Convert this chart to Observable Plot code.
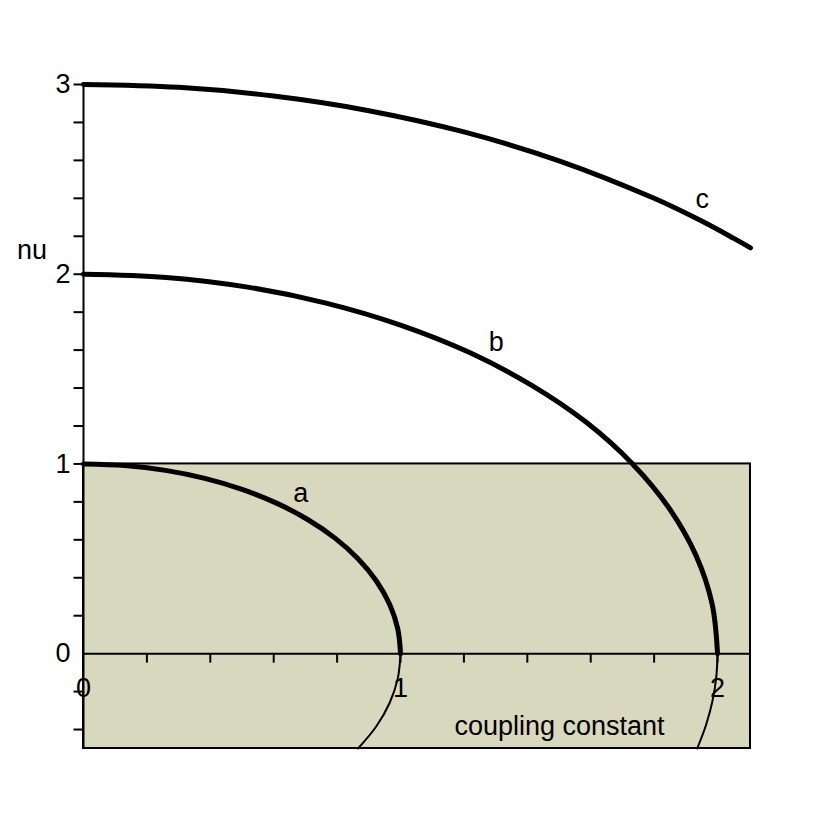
<!DOCTYPE html>
<html>
<head>
<meta charset="utf-8">
<script src="https://cdn.jsdelivr.net/npm/d3@7"></script>
<script src="https://cdn.jsdelivr.net/npm/@observablehq/plot@0.6"></script>
<style>
  html, body { margin: 0; padding: 0; background: #ffffff; }
  #chart svg { display: block; }
</style>
</head>
<body>
<div id="chart"></div>
<script>
// Curve a (radius 1): upper branch (nu >= 0) and lower branch (nu < 0)
const aUpperG  = [0, 0.1305, 0.2588, 0.3827, 0.5, 0.6088, 0.7071, 0.7934, 0.866, 0.9239, 0.9659, 0.9914, 1.0];
const aUpperNu = [1, 0.9914, 0.9659, 0.9239, 0.866, 0.7934, 0.7071, 0.6088, 0.5, 0.3827, 0.2588, 0.1305, 0];
const aLowerG  = [1.0, 0.9914, 0.9659, 0.9239, 0.866];
const aLowerNu = [0, -0.1305, -0.2588, -0.3827, -0.5];

// Curve b (radius 2)
const bUpperG  = [0, 0.261, 0.518, 0.765, 1.0, 1.218, 1.414, 1.587, 1.732, 1.848, 1.932, 1.983, 2.0];
const bUpperNu = [2, 1.983, 1.932, 1.848, 1.732, 1.587, 1.414, 1.218, 1.0, 0.765, 0.518, 0.261, 0];
const bLowerG  = [2.0, 1.996, 1.984, 1.964, 1.936];
const bLowerNu = [0, -0.125, -0.25, -0.375, -0.5];

// Curve c (radius 3)
const cUpperG  = [0, 0.3, 0.6, 0.9, 1.2, 1.5, 1.8, 1.95, 2.05, 2.104];
const cUpperNu = [3, 2.985, 2.939, 2.862, 2.75, 2.598, 2.4, 2.28, 2.19, 2.139];

// Shaded region
const shadeG  = [0, 2.104];
const shadeNu = [-0.5, 1];

// Axes
const xDomain = [0, 2.104];
const yDomain = [-0.5, 3];
const xMinorTicks = [0.2, 0.4, 0.6, 0.8, 1.0, 1.2, 1.4, 1.6, 1.8, 2.0];
const yMinorTicks = [-0.4, -0.2, 0.2, 0.4, 0.6, 0.8, 1.0, 1.2, 1.4, 1.6, 1.8, 2.0, 2.2, 2.4, 2.6, 2.8, 3.0];
const xTickLabels = [0, 1, 2];
const yTickLabels = [0, 1, 2, 3];

// Curve labels
const curveLabels = ["a", "b", "c"];
const curveLabelG = [0.685, 1.302, 1.952];
const curveLabelNu = [0.845, 1.642, 2.397];

const xTitle = "coupling constant";
const yTitle = "nu";

const toRows = (gs, nus) => gs.map((g, i) => ({g, nu: nus[i]}));

const upperCurves = [toRows(aUpperG, aUpperNu), toRows(bUpperG, bUpperNu), toRows(cUpperG, cUpperNu)];
const lowerCurves = [toRows(aLowerG, aLowerNu), toRows(bLowerG, bLowerNu)];

const tickDown = {draw(ctx) { ctx.moveTo(0, 0); ctx.lineTo(0, 9); }};
const tickLeft = {draw(ctx) { ctx.moveTo(0, 0); ctx.lineTo(-10, 0); }};

const font = "Liberation Sans, Helvetica, Arial, sans-serif";

const chart = Plot.plot({
  width: 833,
  height: 833,
  marginLeft: 83,
  marginRight: 83,
  marginTop: 84,
  marginBottom: 85,
  style: {fontFamily: font, fontSize: "27px", background: "#ffffff", overflow: "visible"},
  x: {domain: xDomain, axis: null},
  y: {domain: yDomain, axis: null},
  marks: [
    Plot.rect([{x1: shadeG[0], x2: shadeG[1], y1: shadeNu[0], y2: shadeNu[1]}], {
      x1: "x1", x2: "x2", y1: "y1", y2: "y2", fill: "#d8d8bf", stroke: "black", strokeWidth: 2
    }),
    // x axis
    Plot.ruleY([0], {x1: xDomain[0], x2: xDomain[1], stroke: "black", strokeWidth: 2}),
    Plot.dot(xMinorTicks, {x: d => d, y: 0, symbol: tickDown, stroke: "black", strokeWidth: 2, fill: "none"}),
    // y axis
    Plot.ruleX([0], {y1: yDomain[0], y2: yDomain[1], stroke: "black", strokeWidth: 2}),
    Plot.dot(yMinorTicks, {x: 0, y: d => d, symbol: tickLeft, stroke: "black", strokeWidth: 2, fill: "none"}),
    // lower thin branches
    ...lowerCurves.map(rows => Plot.line(rows, {x: "g", y: "nu", stroke: "black", strokeWidth: 2, curve: "catmull-rom"})),
    // upper thick branches
    ...upperCurves.map(rows => Plot.line(rows, {x: "g", y: "nu", stroke: "black", strokeWidth: 5, curve: "catmull-rom"})),
    // tick labels
    Plot.text(xTickLabels, {x: d => d, y: 0, text: d => String(d), dy: 35, fill: "black"}),
    Plot.text(yTickLabels, {x: 0, y: d => d, text: d => String(d), dx: -13, textAnchor: "end", fill: "black"}),
    // curve labels
    Plot.text(curveLabels, {x: (d, i) => curveLabelG[i], y: (d, i) => curveLabelNu[i], text: d => d, fill: "black"}),
    // axis titles
    Plot.text([xTitle], {x: 1.5016, y: -0.382, text: d => d, fill: "black"}),
    Plot.text([yTitle], {x: -0.1625, y: 2.124, text: d => d, fill: "black"})
  ]
});

document.getElementById("chart").appendChild(chart);
</script>
</body>
</html>
